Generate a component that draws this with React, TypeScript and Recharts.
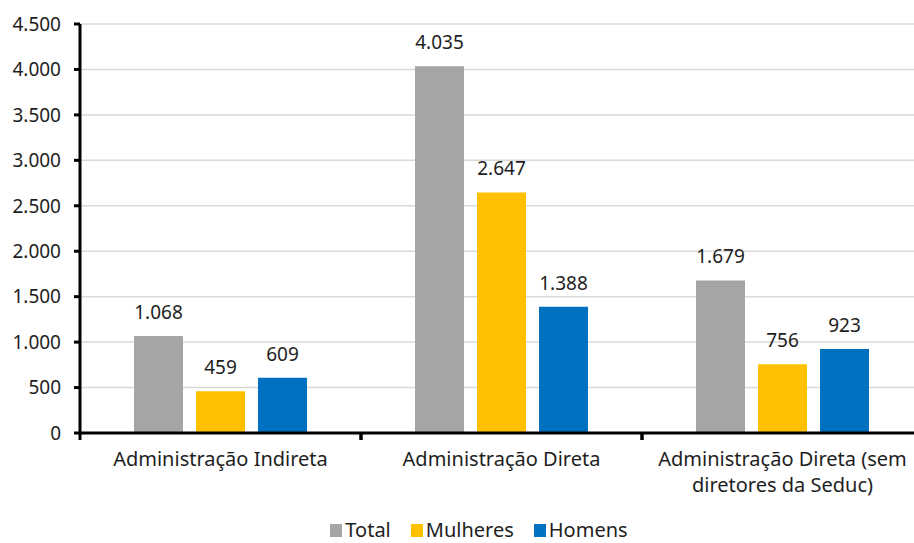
import React from "react";
import {
  BarChart,
  Bar,
  XAxis,
  YAxis,
  CartesianGrid,
  LabelList,
  Legend,
} from "recharts";

// categories and values
const categories = [
  "Administração Indireta",
  "Administração Direta",
  "Administração Direta (sem diretores da Seduc)",
];
const total = [1068, 4035, 1679];
const mulheres = [459, 2647, 756];
const homens = [609, 1388, 923];
const yTicks = [0, 500, 1000, 1500, 2000, 2500, 3000, 3500, 4000, 4500];

const series = [
  { key: "total", name: "Total", color: "#a5a5a5" },
  { key: "mulheres", name: "Mulheres", color: "#ffc000" },
  { key: "homens", name: "Homens", color: "#0070c0" },
];

const data = categories.map((name, i) => ({
  name,
  total: total[i],
  mulheres: mulheres[i],
  homens: homens[i],
}));

const FONT = "'Noto Sans', 'Open Sans', sans-serif";
const FS = 19; // numbers
const FS_TEXT = 20; // words
const TEXT = "#1e1e1e";
const CHART_W = 914;
const PLOT_LEFT = 80;
const PLOT_RIGHT_MARGIN = -9; // plot runs a bit past the right edge, like the original
const BAND = (CHART_W - PLOT_LEFT - PLOT_RIGHT_MARGIN) / categories.length;

// pt-BR style thousands separator
const fmt = (v: number) => String(v).replace(/\B(?=(\d{3})+(?!\d))/g, ".");

// greedy word wrap by character count
function wrap(label: string, max = 26) {
  const lines: string[] = [];
  let cur = "";
  label.split(" ").forEach((w) => {
    const next = cur ? cur + " " + w : w;
    if (next.length > max && cur) {
      lines.push(cur);
      cur = w;
    } else {
      cur = next;
    }
  });
  if (cur) lines.push(cur);
  return lines;
}

function CategoryTick(props: any) {
  const { x, y, payload } = props;
  const lines = wrap(String(payload.value));
  return (
    <g>
      <line x1={x - BAND / 2} x2={x - BAND / 2} y1={y} y2={y + 7} stroke="#000" strokeWidth={3} />
      <line x1={x + BAND / 2} x2={x + BAND / 2} y1={y} y2={y + 7} stroke="#000" strokeWidth={3} />
      {lines.map((l, i) => (
        <text
          key={i}
          x={x}
          y={y + 33 + i * 26}
          textAnchor="middle"
          fill={TEXT}
          style={{ fontFamily: FONT, fontSize: FS_TEXT }}
        >
          {l}
        </text>
      ))}
    </g>
  );
}

function LegendBox() {
  return (
    <div
      style={{
        display: "flex",
        justifyContent: "center",
        alignItems: "center",
        height: 50,
        paddingTop: 24,
        paddingLeft: 55,
        boxSizing: "border-box",
        fontFamily: FONT,
        fontSize: FS_TEXT,
        lineHeight: "22px",
        color: TEXT,
      }}
    >
      {series.map((s) => (
        <span key={s.key} style={{ display: "flex", alignItems: "center", marginRight: 20 }}>
          <span style={{ width: 12, height: 13, background: s.color, marginRight: 3 }} />
          {s.name}
        </span>
      ))}
    </div>
  );
}

export default function App() {
  return (
    <div
      style={{
        position: "fixed",
        top: 0,
        left: 0,
        width: 914,
        height: 543,
        overflow: "hidden",
        background: "#fff",
      }}
    >
      <BarChart
        width={CHART_W}
        height={543}
        data={data}
        margin={{ top: 24, right: PLOT_RIGHT_MARGIN, bottom: 0, left: 0 }}
        barSize={49}
        barGap={13}
      >
        <CartesianGrid vertical={false} stroke="#d9d9d9" strokeWidth={1.5} />
        <XAxis
          dataKey="name"
          height={60}
          tickSize={0}
          tickMargin={0}
          tickLine={false}
          axisLine={{ stroke: "#000", strokeWidth: 3 }}
          tick={<CategoryTick />}
          interval={0}
        />
        <YAxis
          width={PLOT_LEFT}
          domain={[0, 4500]}
          ticks={yTicks}
          tickFormatter={fmt}
          tickSize={6}
          tickMargin={13}
          axisLine={{ stroke: "#000", strokeWidth: 3 }}
          tickLine={{ stroke: "#000", strokeWidth: 3 }}
          tick={{ fill: TEXT, fontSize: FS, fontFamily: FONT }}
        />
        <Legend verticalAlign="bottom" height={50} content={<LegendBox />} />
        {series.map((s) => (
          <Bar key={s.key} dataKey={s.key} name={s.name} fill={s.color} isAnimationActive={false}>
            <LabelList
              dataKey={s.key}
              position="top"
              offset={17}
              formatter={(v: any) => fmt(Number(v))}
              style={{ fill: TEXT, fontSize: FS, fontFamily: FONT }}
            />
          </Bar>
        ))}
      </BarChart>
    </div>
  );
}
